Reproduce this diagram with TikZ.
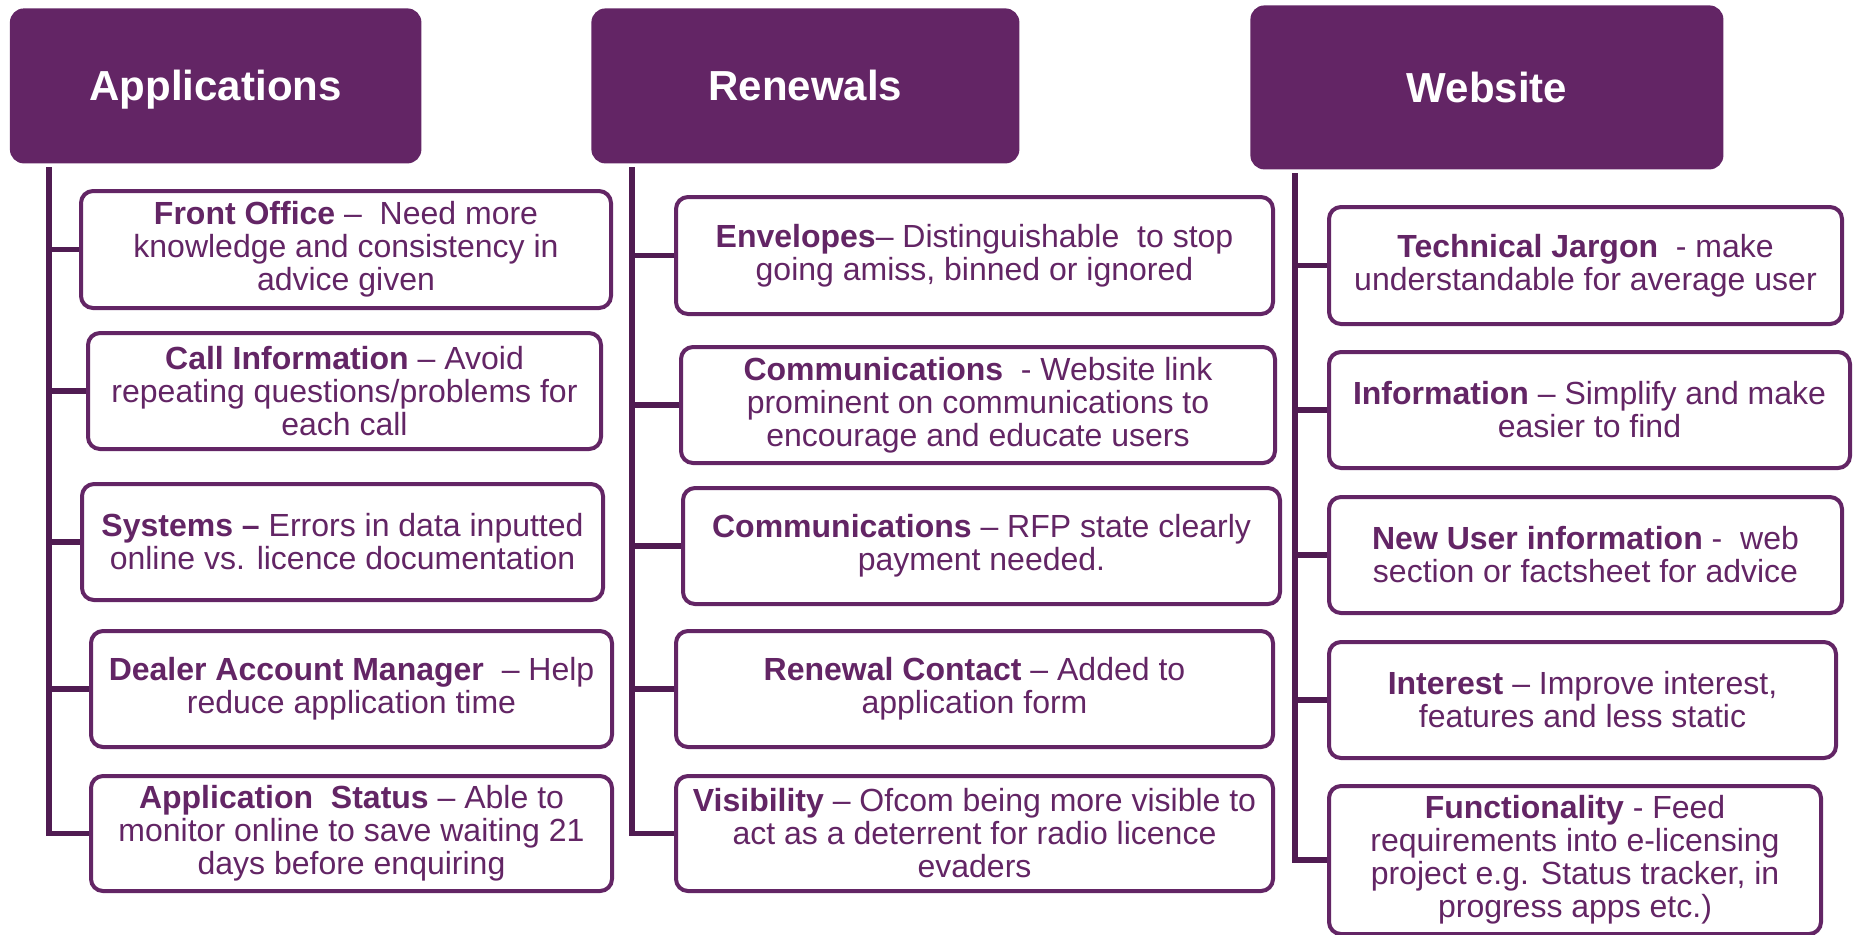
\documentclass[tikz,border=0pt]{standalone}
\usepackage{fontspec}
\setmainfont{Liberation Sans}
\usetikzlibrary{positioning}
\definecolor{ofpurple}{RGB}{99,37,101}
\definecolor{ofstem}{RGB}{80,28,82}
\tikzset {
  % size of a box, given in pixels of the slide
  boxsize/.style 2 args = {
    minimum width = #1*0.5pt,
    minimum height = #2*0.5pt
  },
  % purple column title
  head/.style = {
    fill = ofpurple,
    rounded corners = 7pt,
    anchor = north west,
    inner sep = 0,
    text height = 15pt,
    text depth = 0pt,
    text = white,
    font = \fontsize{21}{24}\selectfont\bfseries
  },
  % white box with a point
  item/.style = {
    draw = ofpurple,
    line width = 2pt,
    fill = white,
    rounded corners = 6pt,
    anchor = north west,
    inner sep = 0,
    align = center,
    text = ofpurple,
    font = \fontsize{16}{16.5}\selectfont
  },
  % trunk and branches
  stem/.style = {
    draw = ofstem,
    line width = 2.6pt
  }
}

\begin{document}
\begin{tikzpicture}[x = 0.5pt, y = -0.5pt]
    \useasboundingbox (0,0) rectangle (1854,934);

    % titles
    \node[head, boxsize = {411.5}{155}] (app) at (9.5,8) {Applications};
    \node[head, boxsize = {428}{155}] (ren) at (591,8) {Renewals};
    \node[head, boxsize = {473}{164}] (web) at (1250,5) {Website};

    % applications
    \node[item, boxsize = {530}{117}] (app1) at (79,189)
      {\textbf{Front Office} --\ \ Need more\\knowledge and consistency in\\advice given};
    \node[item, boxsize = {513}{116}] (app2) at (86,331)
      {\textbf{Call Information} -- Avoid\\repeating questions/problems for\\each call};
    \node[item, boxsize = {521}{116}] (app3) at (80,482)
      {\textbf{Systems --} Errors in data inputted\\online vs. licence documentation};
    \node[item, boxsize = {521}{116}] (app4) at (89,629)
      {\textbf{Dealer Account Manager}\ \ -- Help\\reduce application time};
    \node[item, boxsize = {521}{115}] (app5) at (89,774)
      {\textbf{Application\ \ Status} -- Able to\\monitor online to save waiting 21\\days before enquiring};

    % renewals
    \node[item, boxsize = {597}{117}] (ren1) at (674,195)
      {\textbf{Envelopes}-- Distinguishable\ \ to stop\\going amiss, binned or ignored};
    \node[item, boxsize = {594}{116}] (ren2) at (679,345)
      {\textbf{Communications}\ \ - Website link\\prominent on communications to\\encourage and educate users};
    \node[item, boxsize = {597}{116}] (ren3) at (681,486)
      {\textbf{Communications} -- RFP state clearly\\payment needed.};
    \node[item, boxsize = {597}{116}] (ren4) at (674,629)
      {\textbf{Renewal Contact} -- Added to\\application form};
    \node[item, boxsize = {597}{115}] (ren5) at (674,774)
      {\textbf{Visibility} -- Ofcom being more visible to\\act as a deterrent for radio licence\\evaders};

    % website
    \node[item, boxsize = {513}{117}] (web1) at (1327,205)
      {\textbf{Technical Jargon}\ \ - make\\understandable for average user};
    \node[item, boxsize = {521}{116}] (web2) at (1327,350)
      {\textbf{Information} -- Simplify and make\\easier to find};
    \node[item, boxsize = {513}{116}] (web3) at (1327,495)
      {\textbf{New User information} -\ \ web\\section or factsheet for advice};
    \node[item, boxsize = {507}{116}] (web4) at (1327,640)
      {\textbf{Interest} -- Improve interest,\\features and less static};
    \node[item, boxsize = {492}{148}] (web5) at (1327,784)
      {\textbf{Functionality} - Feed\\requirements into e-licensing\\project e.g. Status tracker, in\\progress apps etc.)};

    \coordinate (app-top) at (49,167);
    \coordinate (ren-top) at (632,167);
    \coordinate (web-top) at (1295,173);

    \draw[stem] (app-top) |- (app5.west);
    \draw[stem] (app1.west -| app-top) -- (app1.west);
    \draw[stem] (app2.west -| app-top) -- (app2.west);
    \draw[stem] (app3.west -| app-top) -- (app3.west);
    \draw[stem] (app4.west -| app-top) -- (app4.west);

    \draw[stem] (ren-top) |- (ren5.west);
    \draw[stem] (ren1.west -| ren-top) -- (ren1.west);
    \draw[stem] (ren2.west -| ren-top) -- (ren2.west);
    \draw[stem] (ren3.west -| ren-top) -- (ren3.west);
    \draw[stem] (ren4.west -| ren-top) -- (ren4.west);

    \draw[stem] (web-top) |- (web5.west);
    \draw[stem] (web1.west -| web-top) -- (web1.west);
    \draw[stem] (web2.west -| web-top) -- (web2.west);
    \draw[stem] (web3.west -| web-top) -- (web3.west);
    \draw[stem] (web4.west -| web-top) -- (web4.west);

  \end{tikzpicture}
\end{document}
